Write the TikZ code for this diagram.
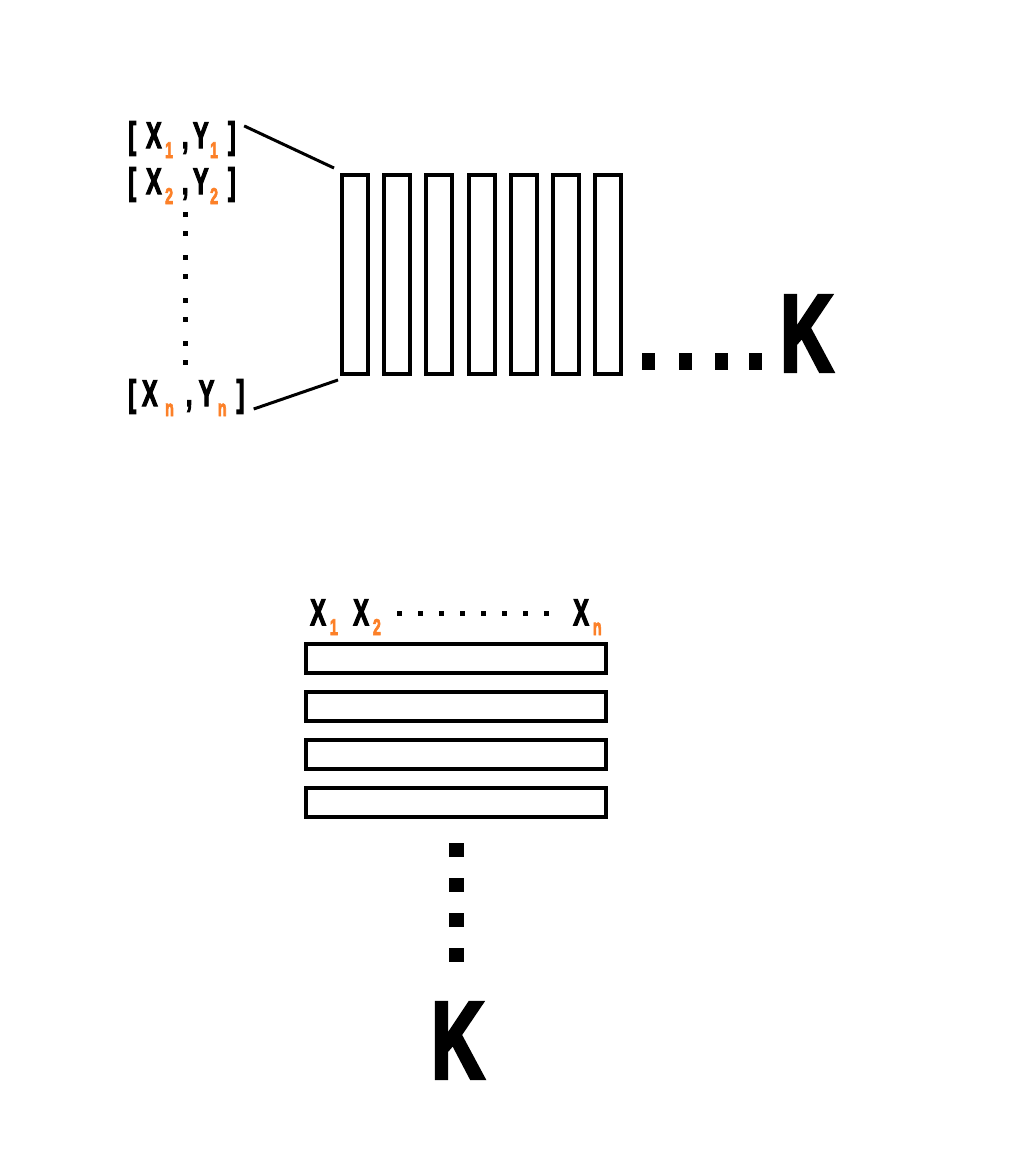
\documentclass[tikz,border=0pt]{standalone}
\usepackage{fontspec}
\setmainfont{Liberation Sans}
\newfontfamily\heavy{Liberation Sans Bold}[FakeBold=4]
\usetikzlibrary{positioning}
\definecolor{idxorange}{RGB}{252,128,40}
\newcommand{\narrow}[1]{\scalebox{0.63}[1]{#1}}
\newcommand{\idx}[1]{\raisebox{-0.2cm}{\textcolor{idxorange}{\fontsize{13}{13}\selectfont\narrow{#1}}}}

\begin{document}
\begin{tikzpicture}[x=0.02cm, y=-0.02cm,
    slot/.style={draw, line width=0.08cm, minimum width=0.52cm, minimum height=3.98cm, inner sep=0pt},
    row/.style={draw, line width=0.08cm, minimum width=6cm, minimum height=0.58cm, inner sep=0pt},
    pair/.style={font=\heavy\fontsize{21}{21}\selectfont, inner sep=0pt, anchor=base west},
    bigk/.style={font=\heavy\fontsize{62}{62}\selectfont, inner sep=0pt, anchor=base west}]
  \useasboundingbox (0,0) rectangle (1024,1160);

  % Upper part: the K columns, one after the other
  \node (slot1) [slot] at (355,274.5) {};
  \foreach \i [remember=\i as \prev (initially 1)] in {2,...,7}
    \node (slot\i) [slot, right=0.245cm of slot\prev] {};

  % Data pairs on the left
  \node (pair1) [pair] at (128,148) {\narrow{[}\hspace{0.2cm}\narrow{X}\hspace{0.07cm}\idx{1}\hspace{0.18cm}\narrow{,}\hspace{0.09cm}\narrow{Y}\hspace{0.03cm}\idx{1}\hspace{0.2cm}\narrow{]}};
  \node (pair2) [pair] at (128,194) {\narrow{[}\hspace{0.2cm}\narrow{X}\hspace{0.07cm}\idx{2}\hspace{0.18cm}\narrow{,}\hspace{0.09cm}\narrow{Y}\hspace{0.03cm}\idx{2}\hspace{0.2cm}\narrow{]}};
  \node (pairn) [pair] at (128,406) {\narrow{[}\hspace{0.12cm}\narrow{X}\hspace{0.15cm}\idx{n}\hspace{0.24cm}\narrow{,}\hspace{0.13cm}\narrow{Y}\hspace{0.07cm}\idx{n}\hspace{0.2cm}\narrow{]}};
  \foreach \y in {212,231,255,274,298,317,341,360}
    \fill (182.5,\y) rectangle ++(5,5);

  % Lines from the pairs to the first column
  \draw [line width=0.06cm] ([xshift=0.16cm, yshift=-0.1cm]pair1.north east) -- ([xshift=-0.12cm, yshift=0.1cm]slot1.north west);
  \draw [line width=0.06cm] ([xshift=0.18cm, yshift=-0.06cm]pairn.base east) -- ([xshift=-0.04cm, yshift=-0.08cm]slot1.south west);

  % Dots up to K
  \foreach \x in {642,679,715,749}
    \fill (\x,353) rectangle ++(13,17);
  \node (kright) [bigk] at (780,371) {\scalebox{0.67}[1]{K}};

  % Lower part: the variables over the K rows
  \node (var1) [pair] at (310,625) {\narrow{X}\hspace{0.08cm}\idx{1}};
  \node (var2) [pair] at (353,625) {\narrow{X}\hspace{0.08cm}\idx{2}};
  \node (varn) [pair] at (573,625) {\narrow{X}\hspace{0.08cm}\idx{n}};
  \foreach \x in {397,418,439,460,481,502,523,544}
    \fill (\x,611) rectangle ++(4.5,5);

  \node (row1) [row] at (456,658.5) {};
  \node (row2) [row, below=0.3cm of row1] {};
  \node (row3) [row, below=0.3cm of row2] {};
  \node (row4) [row, below=0.3cm of row3] {};

  % Dots down to K
  \foreach \y in {843,878,913,948}
    \fill (449,\y) rectangle ++(15,14);
  \node (kdown) [bigk] at (431,1078) {\scalebox{0.67}[1]{K}};
\end{tikzpicture}
\end{document}
